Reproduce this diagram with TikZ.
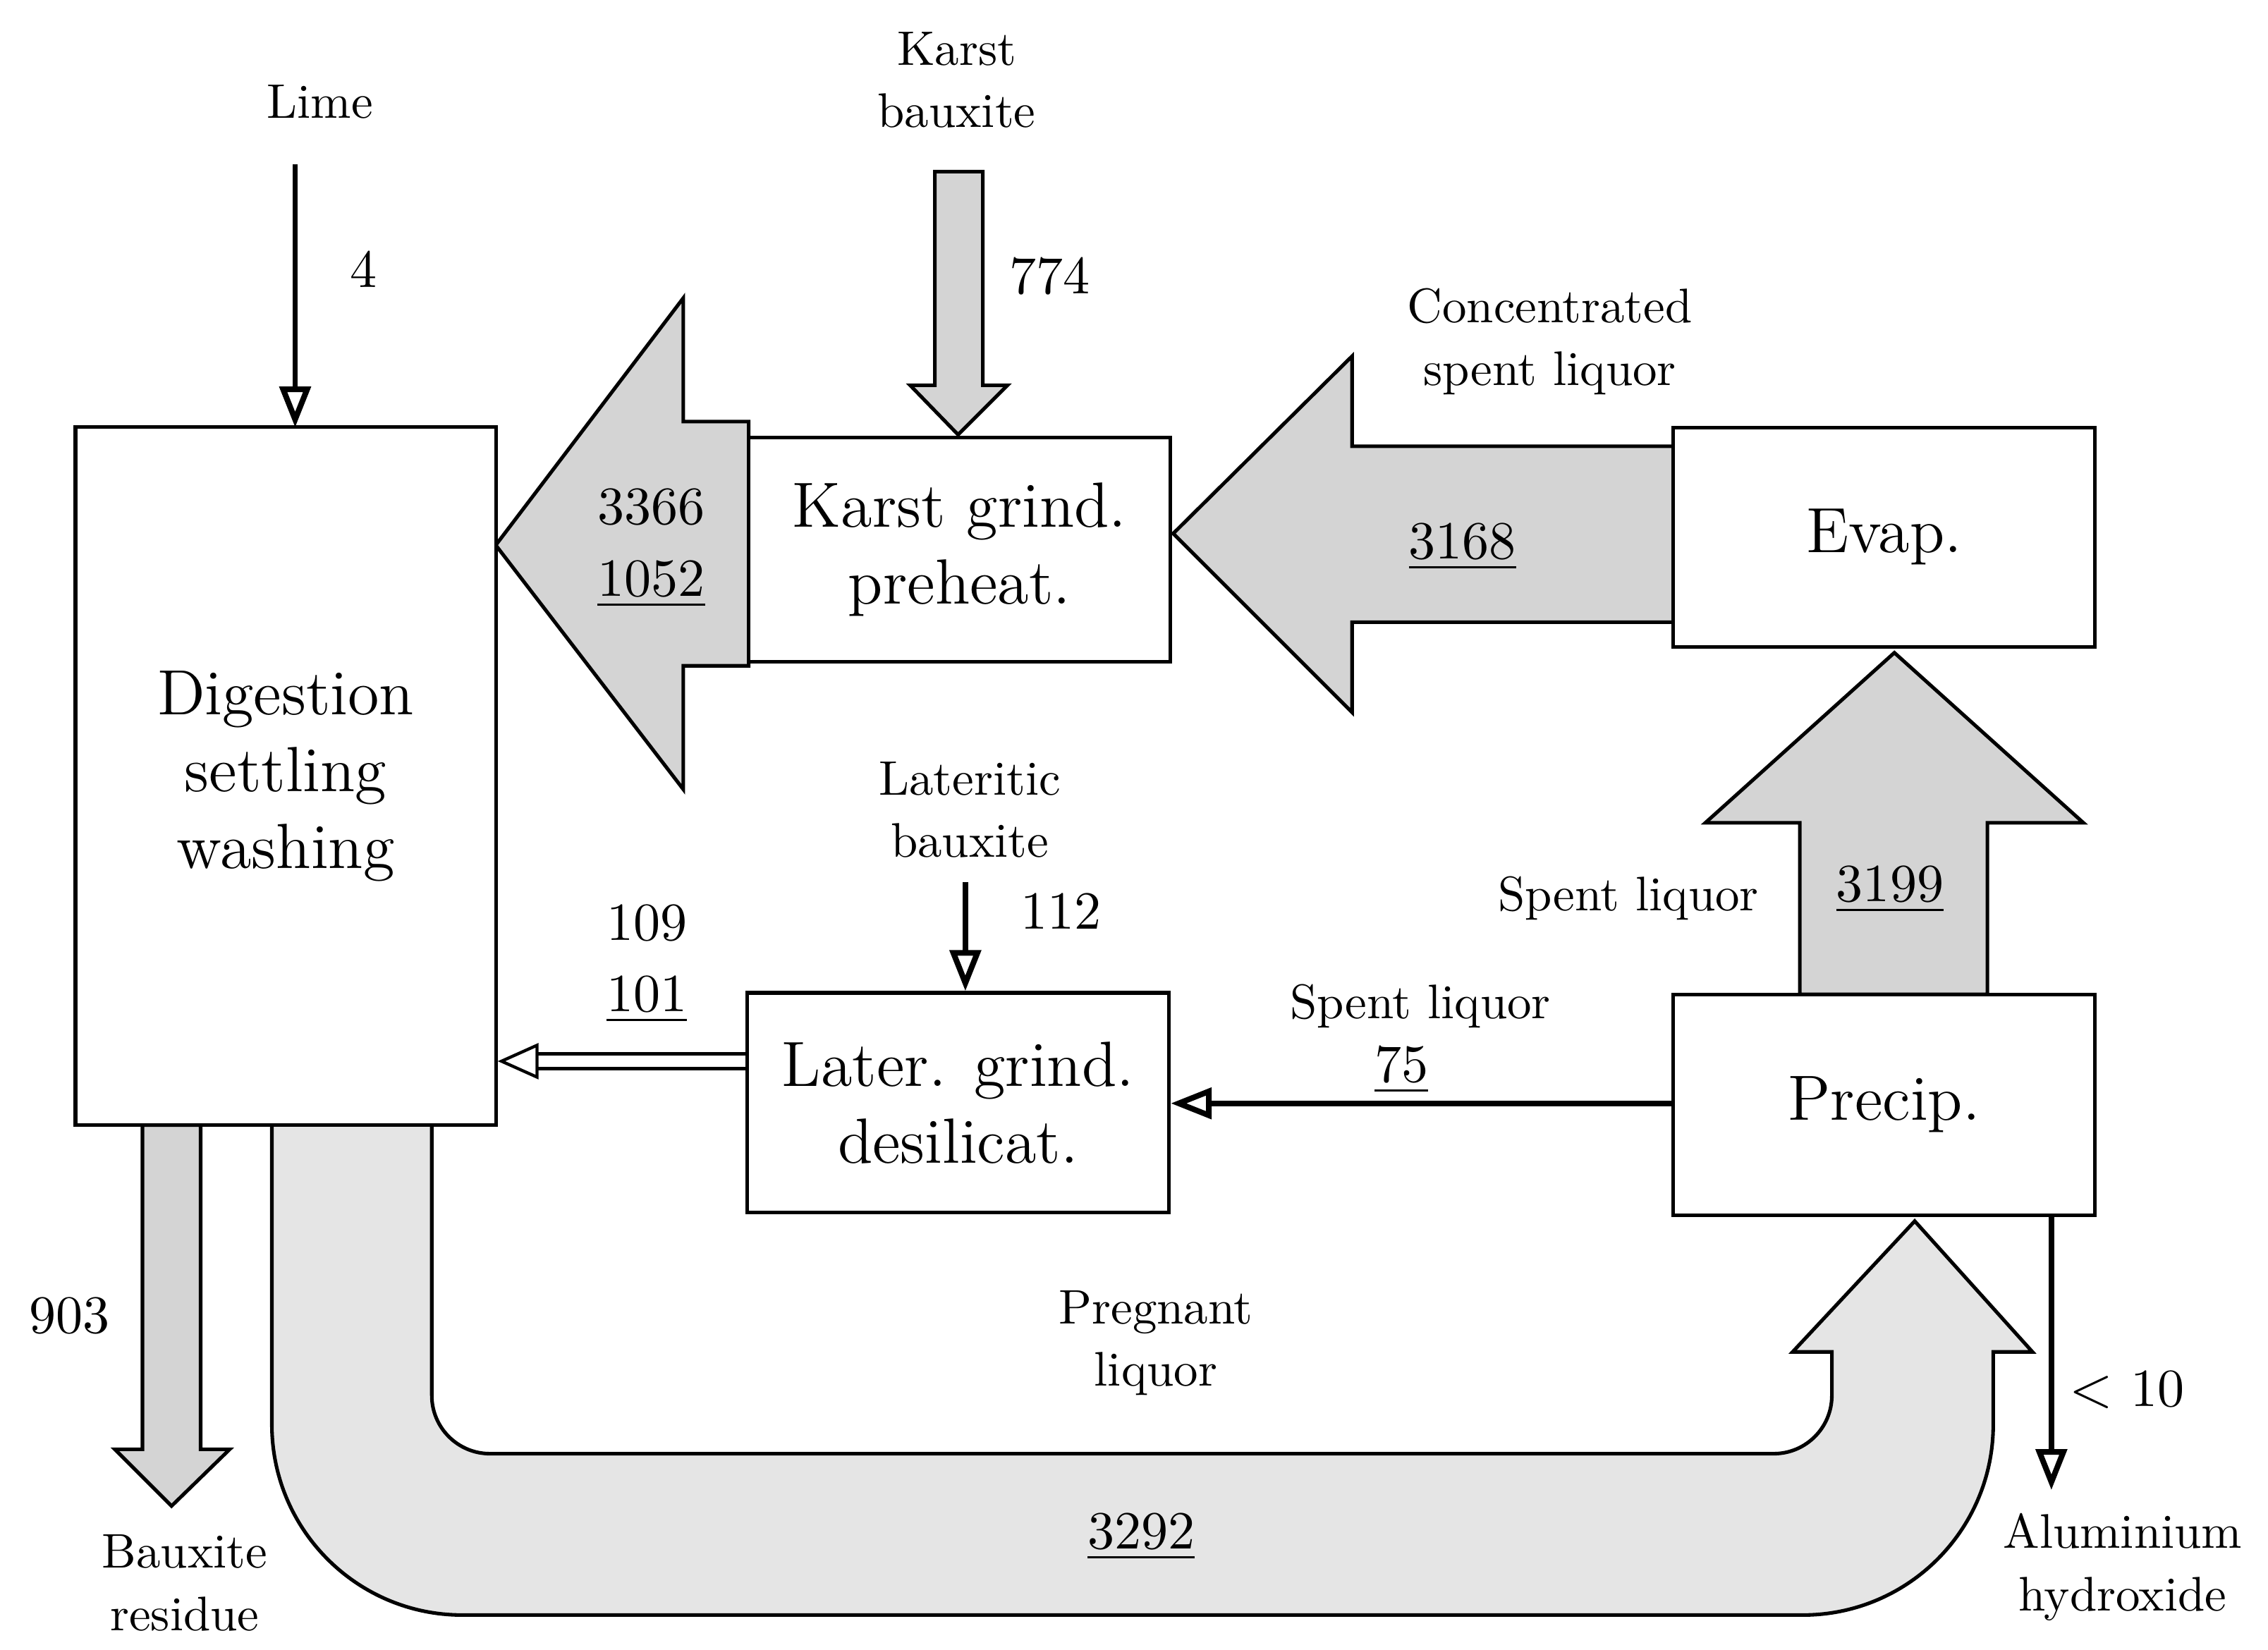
\documentclass[tikz,border=0pt]{standalone}
\usetikzlibrary{arrows.meta}
\begin{document}
\begin{tikzpicture}[x=0.01cm,y=-0.01cm,
  box/.style={draw,line width=0.7pt,fill=white,inner sep=0pt,align=center,font=\fontsize{12.5}{15}\selectfont},
  lbl/.style={align=center,font=\fontsize{9.5}{12.2}\selectfont,inner sep=0pt},
  big/.style={draw,line width=0.7pt,fill=black!17},
  thin/.style={line width=1.1pt,-{Triangle[open,width=6pt,length=8pt]}}]
\useasboundingbox (0,0) rectangle (1560,1135);
% big arrows
\path[big] (515,290) -- (470,290) -- (470,205) -- (341,375) -- (470,543) -- (470,458) -- (515,458) -- cycle;
\path[big] (1151,307) -- (930,307) -- (930,245) -- (807,367) -- (930,490) -- (930,428) -- (1151,428) -- cycle;
\path[big] (1238,684) -- (1238,566) -- (1173,566) -- (1303,449) -- (1433,566) -- (1367,566) -- (1367,684) -- cycle;
\path[big] (643,118) -- (676,118) -- (676,265) -- (693,265) -- (659,299) -- (626,265) -- (643,265) -- cycle;
\path[big] (98,774) -- (138,774) -- (138,997) -- (158,997) -- (118,1036) -- (79,997) -- (98,997) -- cycle;
\path[draw,line width=0.7pt,fill=black!10] (187,774) -- (187,980) arc[start angle=180,end angle=90,radius=131] -- (1240,1111)
  arc[start angle=90,end angle=0,radius=131] -- (1371,930) -- (1398,930) -- (1317,840) -- (1233,930) -- (1260,930) -- (1260,960)
  arc[start angle=0,end angle=90,radius=40] -- (337,1000) arc[start angle=90,end angle=180,radius=40] -- (297,774);
% boxes
\node[box,minimum width=2.89cm,minimum height=4.80cm] (dig) at (196.5,534) {Digestion\\settling\\washing};
\node[box,minimum width=2.90cm,minimum height=1.54cm] (karst) at (660,378) {Karst grind.\\preheat.};
\node[box,minimum width=2.90cm,minimum height=1.51cm] (evap) at (1296,369.5) {Evap.};
\node[box,minimum width=2.90cm,minimum height=1.51cm] (later) at (659,758.5) {Later. grind.\\desilicat.};
\node[box,minimum width=2.90cm,minimum height=1.52cm] (precip) at (1296,760) {Precip.};
% thin arrows
\coordinate (limeS) at (203,113);
\draw[thin] (limeS) -- (203,294);
\coordinate (latS) at (664,607);
\draw[thin] (latS) -- (later.north -| latS);
\draw[thin] (precip.west |- 0,759) -- (later.east |- 0,759);
\draw[line width=0.6pt,double,double distance=0.8mm,-{Triangle[open,width=7pt,length=8pt]}] (later.west |- 0,730) -- (dig.east |- 0,730);
\coordinate (alE) at (1411,1025);
\draw[thin] (precip.south -| alE) -- (alE);
% labels
\node[lbl] at (220,70) {Lime};
\node[lbl,font=\fontsize{10.5}{12}\selectfont] at (250,185) {4};
\node[lbl] at (658,55) {Karst\\bauxite};
\node[lbl,font=\fontsize{10.5}{12}\selectfont] at (722,190) {774};
\node[lbl,font=\fontsize{10.5}{14}\selectfont] at (448,377) {3366\\\underline{1052}};
\node[lbl] at (1066,235) {Concentrated\\spent liquor};
\node[lbl,font=\fontsize{10.5}{12}\selectfont] at (1006,376) {\underline{3168}};
\node[lbl] at (1120,618) {Spent liquor};
\node[lbl,font=\fontsize{10.5}{12}\selectfont] at (1300,612) {\underline{3199}};
\node[lbl] at (667,557) {Lateritic\\bauxite};
\node[lbl,font=\fontsize{10.5}{12}\selectfont] at (730,627) {112};
\node[lbl,font=\fontsize{10.5}{14}\selectfont] at (445,663) {109\\\underline{101}};
\node[lbl] at (977,692) {Spent liquor};
\node[lbl,font=\fontsize{10.5}{12}\selectfont] at (964,736) {\underline{75}};
\node[lbl,font=\fontsize{10.5}{12}\selectfont] at (48,905) {903};
\node[lbl] at (127,1089) {Bauxite\\residue};
\node[lbl] at (795,924) {Pregnant\\liquor};
\node[lbl,font=\fontsize{10.5}{12}\selectfont] at (785,1057) {\underline{3292}};
\node[lbl,font=\fontsize{10.5}{12}\selectfont] at (1463,956) {$<$ 10};
\node[lbl] at (1460,1078) {Aluminium\\hydroxide};
\end{tikzpicture}
\end{document}
